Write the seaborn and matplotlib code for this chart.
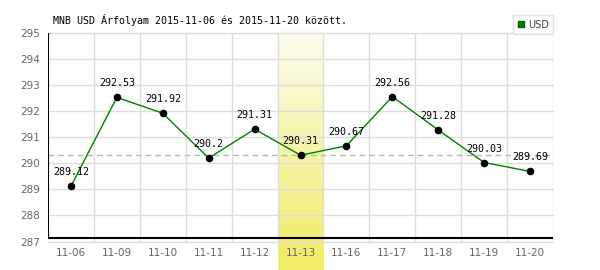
import numpy as np
import pandas as pd
import matplotlib
matplotlib.use("Agg")
import matplotlib.pyplot as plt
from matplotlib.lines import Line2D
from matplotlib.colors import LinearSegmentedColormap
import seaborn as sns

dates = ["11-06", "11-09", "11-10", "11-11", "11-12", "11-13",
         "11-16", "11-17", "11-18", "11-19", "11-20"]
usd = [289.12, 292.53, 291.92, 290.2, 291.31, 290.31,
       290.67, 292.56, 291.28, 290.03, 289.69]
value_labels = ["289.12", "292.53", "291.92", "290.2", "291.31", "290.31",
                "290.67", "292.56", "291.28", "290.03", "289.69"]
y_ticks = [287, 288, 289, 290, 291, 292, 293, 294, 295]
highlight_date = "11-13"
reference_value = 290.31
title = "MNB USD Árfolyam 2015-11-06 és 2015-11-20 között."
series_name = "USD"

sns.set_theme(style="white")
plt.rcParams['font.family'] = ['DejaVu Sans']

df = pd.DataFrame({"pos": np.arange(len(dates)), "value": usd})

fig = plt.figure(figsize=(6, 2.7), dpi=100)
ax = fig.add_axes([48 / 600, 1 - 241.5 / 270, 505 / 600, 208.5 / 270])

ymin, ymax = 287, 295
px = (ymax - ymin) / 208.5

# highlight band (gradient)
hi = dates.index(highlight_date)
grad = np.linspace(0, 1, 256).reshape(-1, 1)
cmap = LinearSegmentedColormap.from_list("y", ["#f0ec64", "#f6f4a8", "#fefdf0"])
ax.imshow(grad, extent=[hi - 0.5, hi + 0.5, ymin - 28.5 * px, ymax + 2 * px],
          aspect='auto', cmap=cmap, origin='lower', clip_on=False, zorder=0)
ax.set_ylim(ymin, ymax)
ax.set_xlim(-0.5, len(dates) - 0.5)

# grid
for y in y_ticks:
    ax.axhline(y, color="#dddddd", lw=1, zorder=1, clip_on=False)
for i in range(1, len(dates) + 1):
    ax.axvline(i - 0.5, color="#dddddd", lw=1, zorder=1)

# reference dashed line
ax.axhline(reference_value, color="#9cc89c", lw=1, ls=(0, (4, 3)), zorder=2)

# data line
sns.lineplot(data=df, x="pos", y="value", color="#008000", lw=1, ax=ax, zorder=3)
sns.scatterplot(data=df, x="pos", y="value", color="black", s=30, ax=ax,
                zorder=4, edgecolor="black", linewidth=0)

for i, (v, lab) in enumerate(zip(usd, value_labels)):
    ax.annotate(lab, (i, v), xytext=(0, 6.5), textcoords="offset points",
                ha="center", va="bottom", fontsize=7.2, family="DejaVu Sans Mono",
                color="black", zorder=5)

# axes lines
for s in ax.spines.values():
    s.set_visible(False)
bl = ymin + 3.3 * px
ax.axhline(bl, color="black", lw=1.5, zorder=6)
ax.axvline(-0.5, ymin=(bl - ymin) / (ymax - ymin), ymax=1, color="black", lw=1.5, zorder=6)

ax.set_xticks(range(len(dates)))
ax.set_xticklabels(dates)
ax.set_yticks(y_ticks)
ax.set_yticklabels([str(t) for t in y_ticks])
ax.tick_params(axis="both", length=0, labelsize=7.5, colors="#666666")
ax.tick_params(axis="x", pad=5)
ax.tick_params(axis="y", pad=6)
ax.set_xlabel("")
ax.set_ylabel("")
ax.set_facecolor("none")

fig.text(53 / 600, 1 - 20 / 270, title, fontsize=7.2, family="DejaVu Sans Mono",
         color="black", va="center", ha="left")

handle = Line2D([], [], marker="s", color="none", markerfacecolor="#008000",
                markeredgecolor="#006000", markersize=5)
leg = fig.legend([handle], [series_name], loc="upper right",
                 bbox_to_anchor=(553 / 600, 1 - 15.5 / 270), borderaxespad=0,
                 fontsize=7, frameon=True, fancybox=False, handlelength=0.8,
                 handletextpad=0.3, borderpad=0.45, labelcolor="#444444")
leg.get_frame().set_edgecolor("#dddddd")
leg.get_frame().set_linewidth(1)
leg.set_zorder(10)

fig.savefig("out.png", dpi=100, facecolor="white")
